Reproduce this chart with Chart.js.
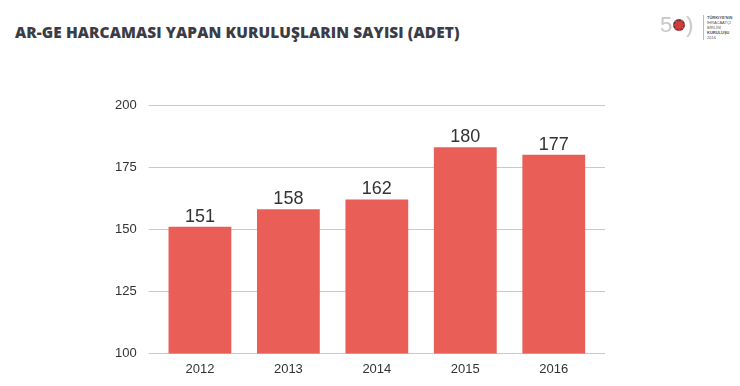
<!DOCTYPE html>
<html>
<head>
<meta charset="utf-8">
<script src="https://cdn.jsdelivr.net/npm/chart.js@4"></script>
<style>
    html, body { margin: 0; padding: 0; background: #ffffff; }
    #wrap { position: relative; width: 740px; height: 386px; overflow: hidden; }
    #title {
        position: absolute; left: 15px; top: 22px;
        font-family: "Open Sans", sans-serif; font-weight: 800; font-size: 15.4px;
        color: #3b3c45; white-space: nowrap; letter-spacing: 0.1px;
    }
    #logo { position: absolute; left: 656px; top: 10px; width: 80px; height: 30px; }
    #logo .big { position: absolute; top: 2px; font-family: "Liberation Sans", sans-serif; font-size: 22px; color: #c9c9c9; }
    #logo .dot { position: absolute; left: 17px; top: 9px; width: 12px; height: 12px; border-radius: 50%; background: #d63a3a; border: 2px dotted #444; box-sizing: border-box; }
    #logo .txt { position: absolute; left: 47px; top: 5px; font-family: "Liberation Sans", sans-serif; font-size: 4px; line-height: 5px; color: #555; border-left: 1px solid #bbb; padding-left: 3px; }
    canvas { position: absolute; left: 0; top: 0; }
</style>
</head>
<body>
<div id="wrap">
    <div id="title">AR-GE HARCAMASI YAPAN KURULUŞLARIN SAYISI (ADET)</div>
    <div id="logo">
        <span class="big" style="left:4px">5</span>
        <span class="dot"></span>
        <span class="big" style="left:30px">)</span>
        <div class="txt"><b>TÜRKİYE'NİN</b><br>İHRACAATÇI BİRLİĞİ<br><b>KURULUŞU</b><br>2016</div>
    </div>
    <canvas id="chart" width="740" height="386"></canvas>
</div>
<script>
// Dữ liệu biểu đồ
const years = ["2012", "2013", "2014", "2015", "2016"];
const barValues = [151, 158, 162, 183, 180];     // chiều cao cột như trong hình
const valueLabels = ["151", "158", "162", "180", "177"]; // nhãn ghi trên cột
const yTicks = [100, 125, 150, 175, 200];

const BAR_COLOR = "#e95f57";
const GRID_COLOR = "#c9c9c9";
const TEXT_COLOR = "#333333";

// Kẻ lưới ngang, dài hơn vùng vẽ một chút
const gridPlugin = {
    id: "wideGrid",
    beforeDatasetsDraw(chart) {
        const { ctx, chartArea, scales } = chart;
        ctx.save();
        ctx.strokeStyle = GRID_COLOR;
        ctx.lineWidth = 1.2;
        yTicks.forEach(v => {
            const y = Math.round(scales.y.getPixelForValue(v)) + 0.5;
            ctx.beginPath();
            ctx.moveTo(chartArea.left - 7, y);
            ctx.lineTo(chartArea.right + 7, y);
            ctx.stroke();
        });
        ctx.restore();
    }
};

// Ghi số lên đầu cột
const labelPlugin = {
    id: "barLabels",
    afterDatasetsDraw(chart) {
        const { ctx } = chart;
        const meta = chart.getDatasetMeta(0);
        ctx.save();
        ctx.font = '18px "Liberation Sans", sans-serif';
        ctx.fillStyle = TEXT_COLOR;
        ctx.textAlign = "center";
        ctx.textBaseline = "alphabetic";
        meta.data.forEach((bar, i) => {
            ctx.fillText(valueLabels[i], bar.x, bar.y - 5);
        });
        ctx.restore();
    }
};

new Chart(document.getElementById("chart"), {
    type: "bar",
    data: {
        labels: years,
        datasets: [{
            data: barValues,
            backgroundColor: BAR_COLOR,
            borderWidth: 0,
            barPercentage: 0.71,
            categoryPercentage: 1
        }]
    },
    options: {
        responsive: false,
        animation: false,
        layout: { padding: { left: 96, right: 142, top: 105, bottom: 1 } },
        plugins: { legend: { display: false }, tooltip: { enabled: false } },
        scales: {
            x: {
                grid: { display: false, drawTicks: false },
                border: { display: false },
                ticks: {
                    color: TEXT_COLOR, padding: 8,
                    font: { family: "Liberation Sans", size: 13 }
                }
            },
            y: {
                min: 100, max: 200,
                grid: { display: false, drawTicks: false },
                border: { display: false },
                afterBuildTicks(axis) { axis.ticks = yTicks.map(v => ({ value: v })); },
                ticks: {
                    color: TEXT_COLOR, padding: 19,
                    font: { family: "Liberation Sans", size: 13 }
                }
            }
        }
    },
    plugins: [gridPlugin, labelPlugin]
});
</script>
</body>
</html>
